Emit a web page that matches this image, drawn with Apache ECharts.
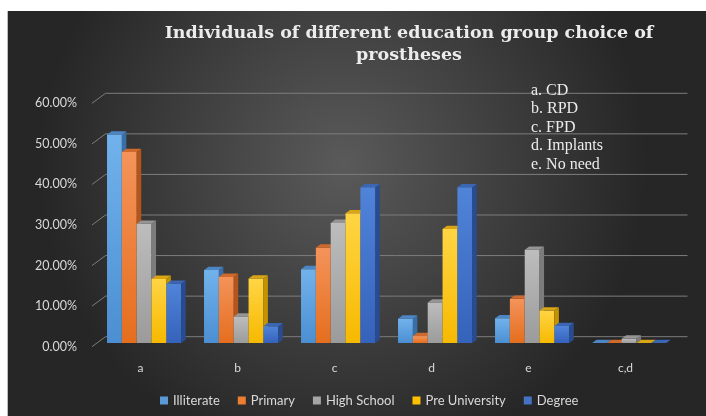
<!DOCTYPE html>
<html>
<head>
<meta charset="utf-8">
<script src="https://cdn.jsdelivr.net/npm/echarts@6/dist/echarts.min.js"></script>
<style>
html,body{margin:0;padding:0;background:#fff;}
#c{width:706px;height:416px;}
</style>
</head>
<body>
<div id="c"></div>
<script>
// ---- data ----
var categories = ['a', 'b', 'c', 'd', 'e', 'c,d'];
var seriesNames = ['Illiterate', 'Primary', 'High School', 'Pre University', 'Degree'];
var illiterate   = [51.4, 18.0, 18.2,  6.0,  6.1, 0];
var primary      = [47.1, 16.3, 23.5,  1.7, 10.9, 0];
var highSchool   = [29.4,  6.5, 29.6, 10.0, 23.0, 1.1];
var preUniversity= [15.8, 15.9, 32.0, 28.1,  8.0, 0];
var degree       = [14.6,  4.1, 38.4, 38.4,  4.2, 0];
var tickValues = [0, 10, 20, 30, 40, 50, 60];
var titleText = 'Individuals of different education group choice of\nprostheses';
var noteLines = ['a. CD', 'b. RPD', 'c. FPD', 'd. Implants', 'e. No need'];

var seriesValues = [illiterate, primary, highSchool, preUniversity, degree];
var palette = [
  {front:['#72b2ec','#4b8fd2'], side:'#3a6ea6', top:'#4d86c4', legend:'#5b9bd5'},
  {front:['#f4935a','#e56e1e'], side:'#b4561b', top:'#cf6a2c', legend:'#ed7d31'},
  {front:['#bdbdbd','#9b9b9b'], side:'#7c7c7c', top:'#959595', legend:'#a5a5a5'},
  {front:['#ffd544','#f7b900'], side:'#c49300', top:'#d9a514', legend:'#ffc000'},
  {front:['#5084d9','#3562bb'], side:'#284b92', top:'#3a66b4', legend:'#4472c4'}
];

var DX = 4.5, DY = 3.3;      // bar depth (pixels)
var BX = 0, BY = -3.7;       // bar plane shift from front plane
var WX = 13.5, WY = -10;     // back wall shift

function barRender(sIdx) {
  return function (params, api) {
    var cat = api.value(0), v = api.value(1);
    var base = api.coord([cat, 0]);
    var top = api.coord([cat, v]);
    var band = api.size([1, 0])[0];
    var bw = band * 0.153;
    var x0 = base[0] - band / 2 + band * 0.155 + sIdx * bw + BX;
    var yb = base[1] + BY, yt = top[1] + BY;
    var c = palette[sIdx];
    var children = [];
    if (yb - yt > 0.01) {
      children.push({type:'rect', shape:{x:x0, y:yt, width:bw, height:yb-yt},
        style:{fill:new echarts.graphic.LinearGradient(0,0,0,1,[{offset:0,color:c.front[0]},{offset:1,color:c.front[1]}])}});
      children.push({type:'polygon', shape:{points:[[x0+bw,yt],[x0+bw+DX,yt-DY],[x0+bw+DX,yb-DY],[x0+bw,yb]]},
        style:{fill:c.side}});
    }
    children.push({type:'polygon', shape:{points:[[x0,yt],[x0+DX,yt-DY],[x0+bw+DX,yt-DY],[x0+bw,yt]]},
      style:{fill:c.top}});
    return {type:'group', children:children};
  };
}

var series = [];
// back wall gridlines
series.push({
  type:'custom', name:'grid', silent:true, z:1,
  data: tickValues.map(function(t){return [0, t];}),
  renderItem: function (params, api) {
    var y = api.coord([0, api.value(1)])[1];
    var cs = params.coordSys;
    var l = cs.x, r = cs.x + cs.width;
    return {type:'polyline', shape:{points:[[l,y],[l+WX,y+WY],[r+WX,y+WY]]},
      style:{stroke:'#7d7d7d', lineWidth:1, fill:null}};
  }
});
seriesValues.forEach(function (vals, s) {
  series.push({
    type:'custom', name:seriesNames[s], z:2,
    itemStyle:{color:palette[s].legend},
    data: vals.map(function(v, i){return [i, v];}),
    renderItem: barRender(s)
  });
});

var chart = echarts.init(document.getElementById('c'), null, {renderer:'canvas'});
chart.setOption({
  backgroundColor:'#ffffff',
  animation:false,
  color: palette.map(function(p){return p.legend;}),
  graphic:[
    {type:'rect', z:-10, silent:true, shape:{x:8, y:11, width:698, height:405},
     style:{fill:new echarts.graphic.RadialGradient(0.48,0.38,0.75,[{offset:0,color:'#5a5a5a'},{offset:1,color:'#262626'}])}},
    {type:'rect', z:-9, silent:true, shape:{x:7, y:11, width:1, height:405}, style:{fill:'#bdbdbd'}},
    {type:'text', z:10, x:409, y:22, style:{text:titleText, fill:'#ececec',
      font:'bold 17.5px "DejaVu Serif"', lineHeight:22, align:'center', textAlign:'center', verticalAlign:'top'}},
    {type:'text', z:10, x:531, y:81, style:{text:noteLines.join('\n'), fill:'#ececec',
      font:'16px "Liberation Serif"', lineHeight:18.6, align:'left', verticalAlign:'top'}}
  ],
  grid:{left:92, right:32, top:103.3, bottom:69.3, containLabel:false},
  xAxis:{type:'category', data:categories,
    axisLine:{show:false}, axisTick:{show:false},
    axisLabel:{color:'#d9d9d9', fontFamily:'Lato', fontSize:12, margin:15}},
  yAxis:{type:'value', min:0, max:60, interval:10,
    axisLine:{show:false}, axisTick:{show:false}, splitLine:{show:false},
    axisLabel:{color:'#d9d9d9', fontFamily:'Lato', fontSize:12.5, margin:15,
      formatter:function(v){return v.toFixed(2)+'%';}}},
  legend:{data:seriesNames, bottom:4, left:155, itemWidth:8, itemHeight:8, itemGap:18,
    icon:'rect', textStyle:{color:'#d9d9d9', fontFamily:'Lato', fontSize:13}},
  series:series
});
</script>
</body>
</html>
